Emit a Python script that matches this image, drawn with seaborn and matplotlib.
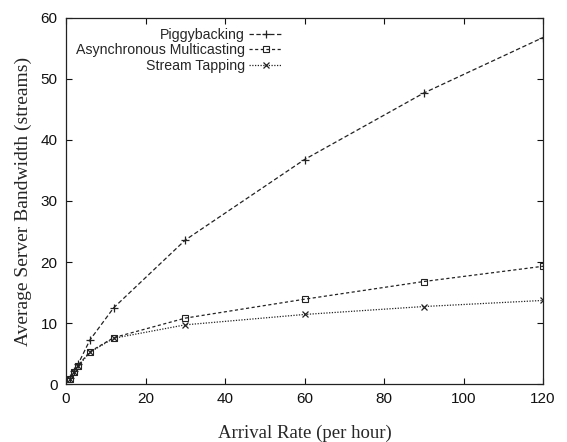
import matplotlib
matplotlib.use("Agg")
import matplotlib.pyplot as plt
import seaborn as sns
import pandas as pd

# Arrival rates (requests per hour)
arrival_rate = [1, 2, 3, 6, 12, 30, 60, 90, 120]

# Average server bandwidth (streams) per scheme
piggybacking = [1.0, 2.2, 3.2, 7.2, 12.5, 23.6, 36.8, 47.7, 56.8]
async_multicasting = [0.9, 2.0, 3.0, 5.3, 7.6, 10.8, 13.9, 16.8, 19.3]
stream_tapping = [0.9, 1.9, 2.9, 5.2, 7.5, 9.7, 11.4, 12.7, 13.7]

series_names = ["Piggybacking", "Asynchronous Multicasting", "Stream Tapping"]
x_ticks = [0, 20, 40, 60, 80, 100, 120]
y_ticks = [0, 10, 20, 30, 40, 50, 60]

sns.set_theme(style="ticks")
plt.rcParams["font.family"] = ["Liberation Sans", "DejaVu Sans"]

fig = plt.figure(figsize=(5.67, 4.42), dpi=100)
ax = fig.add_axes([0.1164, 0.1312, 0.8413, 0.8281])

styles = [
    dict(marker="+", linestyle=(0, (3.5, 2.0)), markersize=6, mew=0.9),
    dict(marker="s", linestyle=(0, (2.5, 2.0)), markersize=4.5, mew=0.8,
         markerfacecolor="none"),
    dict(marker="x", linestyle=(0, (1.0, 1.2)), markersize=4.5, mew=0.9),
]

for name, values, st in zip(series_names,
                            [piggybacking, async_multicasting, stream_tapping],
                            styles):
    df = pd.DataFrame({"rate": arrival_rate, "bw": values})
    sns.lineplot(data=df, x="rate", y="bw", ax=ax, color="#222222",
                 linewidth=0.9, label=name, markeredgecolor="#222222", **st)

ax.set_xlim(0, 120)
ax.set_ylim(0, 60)
ax.set_xticks(x_ticks)
ax.set_yticks(y_ticks)
ax.tick_params(direction="in", length=4, width=0.8, top=True, right=True,
               labelsize=11, colors="#111111", pad=6)
for sp in ax.spines.values():
    sp.set_linewidth(0.9)
    sp.set_color("#222222")

ax.set_xlabel("Arrival Rate (per hour)", family=["Liberation Serif"],
              fontsize=13.5, labelpad=13)
ax.set_ylabel("Average Server Bandwidth (streams)", family=["Liberation Serif"],
              fontsize=14, labelpad=6)

ax.legend(loc="upper right", bbox_to_anchor=(282 / 567, 1 - 28 / 442),
          bbox_transform=fig.transFigure, frameon=False, markerfirst=False,
          fontsize=10.2, handlelength=2.3, handletextpad=0.3, labelspacing=0.1,
          borderpad=0, borderaxespad=0)

fig.savefig("out.png", dpi=100)
